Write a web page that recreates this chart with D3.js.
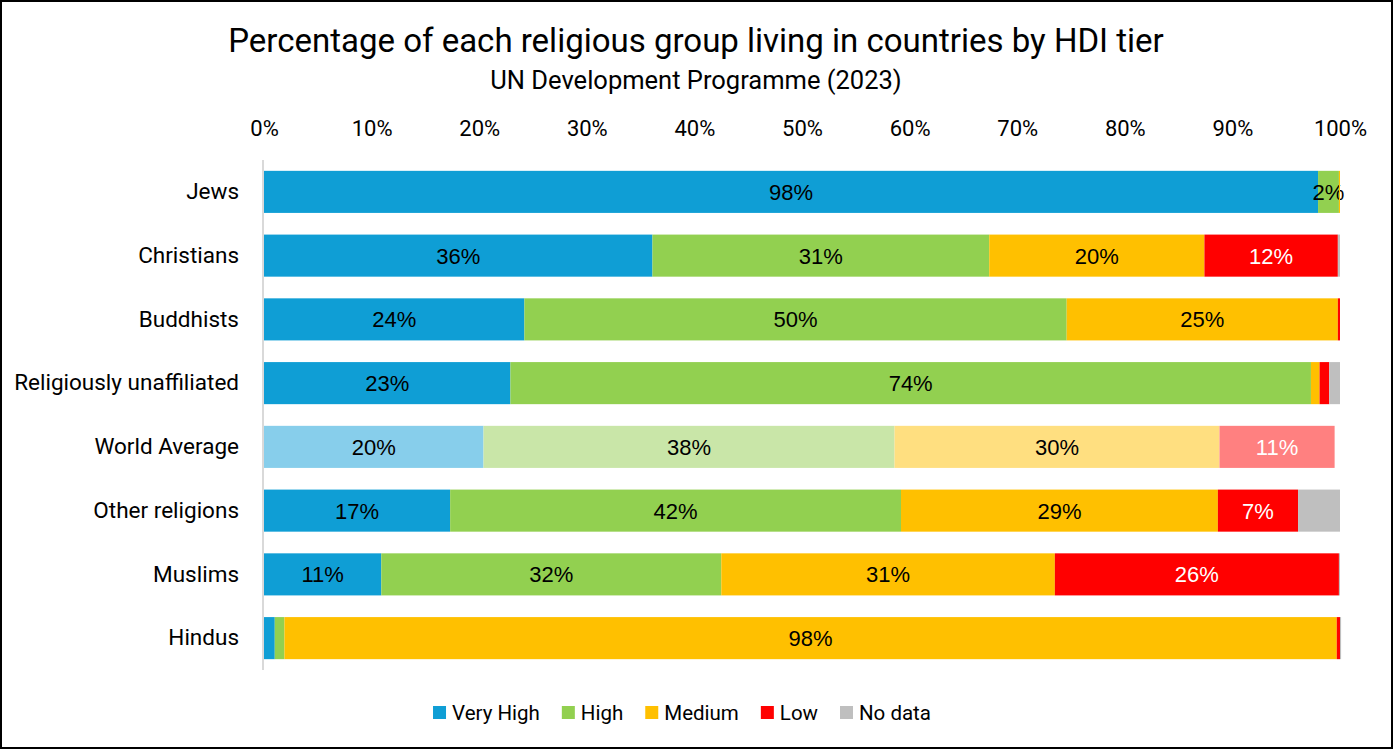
<!DOCTYPE html>
<html>
<head>
<meta charset="utf-8">
<script src="https://cdn.jsdelivr.net/npm/d3@7"></script>
<style>
  html, body { margin: 0; padding: 0; background: #fff; }
  svg { display: block; }
</style>
</head>
<body>
<svg id="chart" width="1393" height="749"></svg>
<script>
const categories = ["Jews", "Christians", "Buddhists", "Religiously unaffiliated", "World Average", "Other religions", "Muslims", "Hindus"];
const seriesNames = ["Very High", "High", "Medium", "Low", "No data"];
const veryHigh = [97.96, 36.1, 24.2, 22.9, 20.4, 17.3, 10.9, 1.0];
const high     = [1.94, 31.3, 50.4, 74.4, 38.2, 41.9, 31.6, 0.9];
const medium   = [0.1, 20.0, 25.2, 0.8, 30.2, 29.45, 31.0, 97.8];
const low      = [0.0, 12.4, 0.2, 0.9, 10.7, 7.45, 26.4, 0.3];
const noData   = [0.0, 0.2, 0.0, 1.0, 0.0, 3.9, 0.1, 0.1];
const tickValues = [0, 10, 20, 30, 40, 50, 60, 70, 80, 90, 100];
const titleText = "Percentage of each religious group living in countries by HDI tier";
const subtitleText = "UN Development Programme (2023)";

const colors = ["#0F9ED5", "#92D050", "#FFC000", "#FF0000", "#BFBFBF"];
const lightColors = ["#87CEEB", "#C9E6A8", "#FFDF80", "#FF8080", "#DFDFDF"];
const labelColors = ["#000", "#000", "#000", "#fff", "#000"];

const seriesValues = [veryHigh, high, medium, low, noData];
const table = categories.map((c, i) => {
  const row = { category: c };
  seriesNames.forEach((s, j) => row[s] = seriesValues[j][i]);
  return row;
});

const svg = d3.select("#chart");
const W = 1393, H = 749;

svg.append("rect").attr("x", 1).attr("y", 1).attr("width", W - 2).attr("height", H - 2)
  .attr("fill", "#fff").attr("stroke", "#000").attr("stroke-width", 2);

const x = d3.scaleLinear().domain([0, 100]).range([264, 1340]);
const y = d3.scaleBand().domain(categories).range([160, 670]).paddingInner(0.34).paddingOuter(0.17);

const stack = d3.stack().keys(seriesNames);
const stacked = stack(table);

const font = "Roboto, 'Open Sans', sans-serif";

svg.append("text").attr("x", 696).attr("y", 52).attr("text-anchor", "middle")
  .attr("font-family", font).attr("font-size", 33).attr("fill", "#000").text(titleText);
svg.append("text").attr("x", 696).attr("y", 89).attr("text-anchor", "middle")
  .attr("font-family", font).attr("font-size", 25.5).attr("fill", "#000").text(subtitleText);

// top axis
const xAxis = d3.axisTop(x).tickValues(tickValues).tickFormat(d => d + "%").tickSize(0).tickPadding(0);
const gx = svg.append("g").attr("transform", "translate(0,136)").call(xAxis);
gx.select(".domain").remove();
gx.selectAll("text").attr("font-family", font).attr("font-size", 22).attr("fill", "#000");

// bars
const groups = svg.append("g").selectAll("g").data(stacked).join("g");
groups.each(function(series, si) {
  d3.select(this).selectAll("rect").data(series).join("rect")
    .attr("x", d => x(d[0]))
    .attr("y", d => y(d.data.category))
    .attr("width", d => Math.max(0, x(d[1]) - x(d[0])))
    .attr("height", y.bandwidth())
    .attr("fill", d => d.data.category === "World Average" ? lightColors[si] : colors[si]);
});

// data labels
groups.each(function(series, si) {
  if (seriesNames[si] === "No data") return;
  d3.select(this).selectAll("text").data(series.filter(d => d[1] - d[0] >= 1.5)).join("text")
    .attr("x", d => (x(d[0]) + x(d[1])) / 2)
    .attr("y", d => y(d.data.category) + y.bandwidth() / 2)
    .attr("dy", "0.36em")
    .attr("text-anchor", "middle")
    .attr("font-family", "'Liberation Sans', Arial, sans-serif")
    .attr("font-size", 22)
    .attr("fill", labelColors[si])
    .text(d => Math.round(d[1] - d[0]) + "%");
});

// y axis
const yAxis = d3.axisLeft(y).tickSize(0).tickPadding(24);
const gy = svg.append("g").attr("transform", "translate(263,0)").call(yAxis);
gy.select(".domain").attr("stroke", "#D9D9D9").attr("stroke-width", 2).attr("d", "M0,160V670");
gy.selectAll("text").attr("font-family", font).attr("font-size", 22.5).attr("fill", "#000");

// legend
const legend = svg.append("g");
let lx = 0;
seriesNames.forEach((s, i) => {
  const g = legend.append("g").attr("transform", `translate(${lx},0)`);
  g.append("rect").attr("x", 0).attr("y", -7).attr("width", 13).attr("height", 13).attr("fill", colors[i]);
  const t = g.append("text").attr("x", 19).attr("y", 0).attr("dy", "0.35em")
    .attr("font-family", font).attr("font-size", 20.5).attr("fill", "#000").text(s);
  lx += 19 + t.node().getComputedTextLength() + 22;
});
const legW = lx - 22;
legend.attr("transform", `translate(${682 - legW / 2},713)`);
</script>
</body>
</html>
